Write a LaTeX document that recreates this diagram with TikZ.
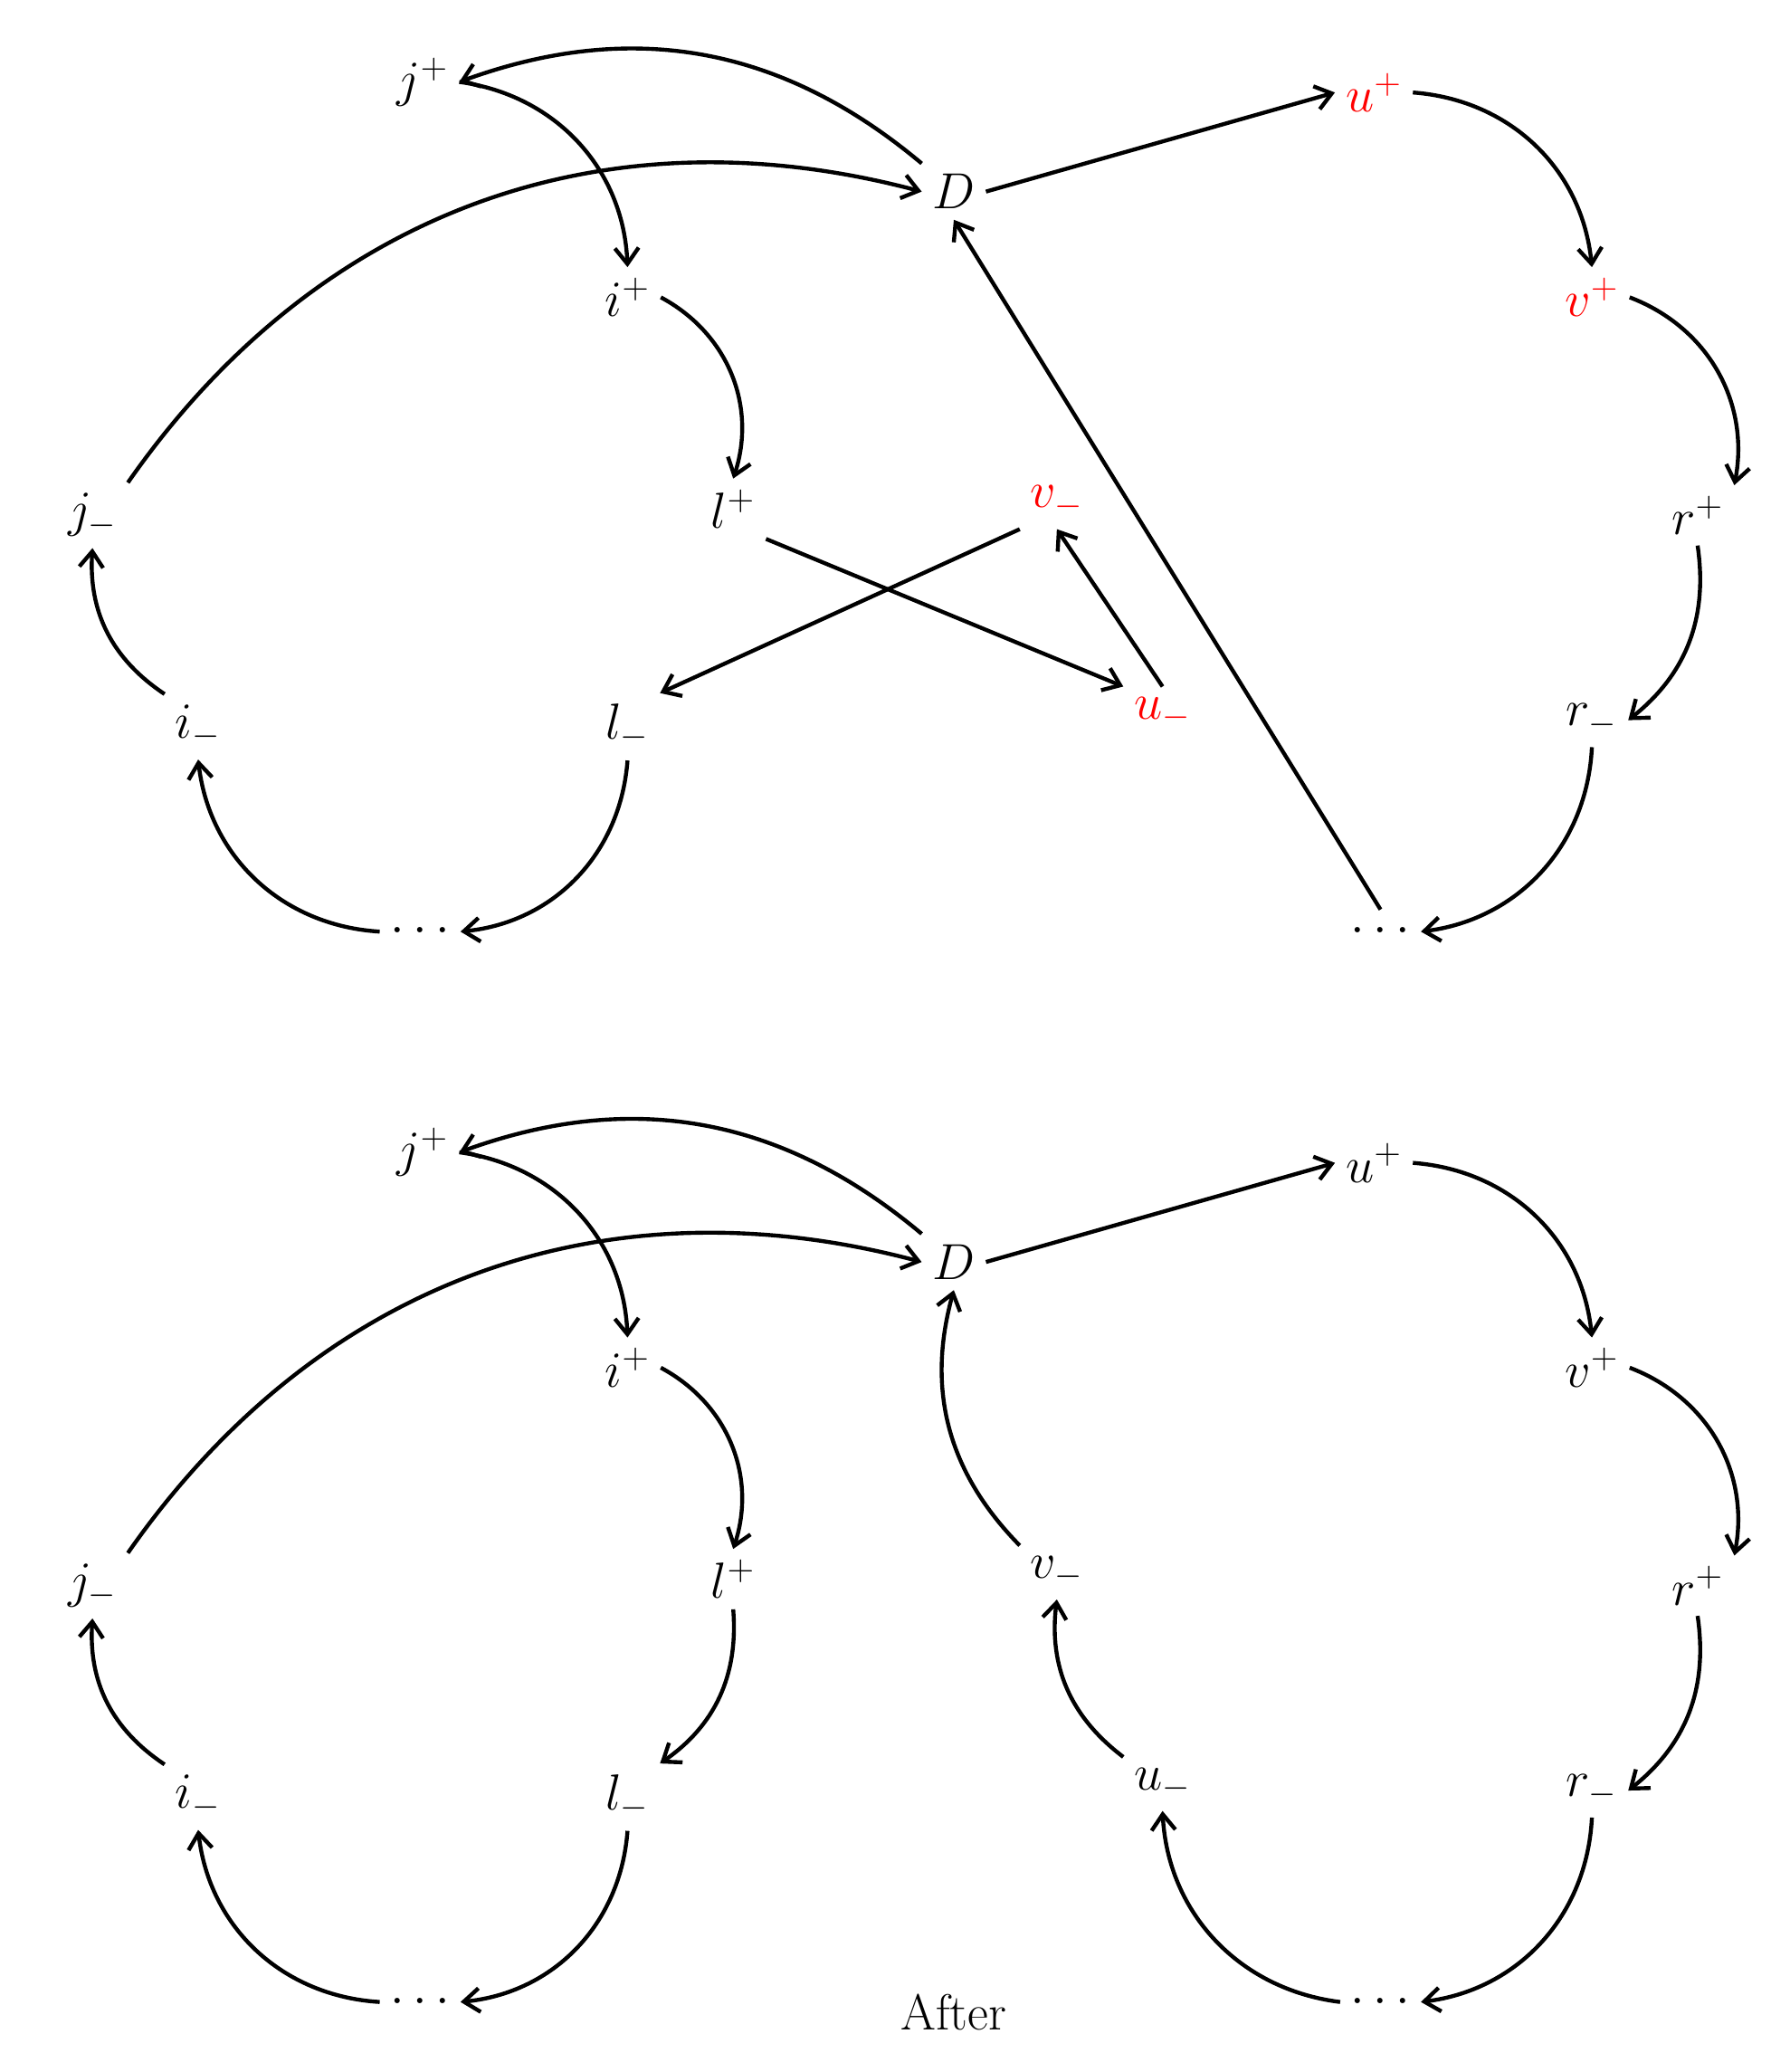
\documentclass[tikz,border=0pt]{standalone}
\usetikzlibrary{arrows.meta}
\newcommand{\Lb}[1]{\scalebox{1.85}{\huge #1}}
\begin{document}
\begin{tikzpicture}[x=1pt,y=-1pt,
  lab/.style={inner sep=8pt},
  red/.style={text=red},
  arr/.style={-{Straight Barb[length=12pt,width=18pt,line width=3pt]},line width=3pt},
  every node/.append style={lab}]
\useasboundingbox (0,0) rectangle (1340,1568);
\foreach \o/\p in {0/t,810/b}{
\begin{scope}[yshift=-\o pt]
\node (jp\p) at (320,62) {\Lb{$j^+$}};
\node (D\p) at (722,145) {\Lb{$D$}};
\node (ip\p) at (475,225) {\Lb{$i^+$}};
\node (jm\p) at (70,390) {\Lb{$j_-$}};
\node (lp\p) at (555,385) {\Lb{$l^+$}};
\node (rp\p) at (1285,390) {\Lb{$r^+$}};
\node (im\p) at (150,550) {\Lb{$i_-$}};
\node (lm\p) at (475,550) {\Lb{$l_-$}};
\node (rm\p) at (1205,545) {\Lb{$r_-$}};
\node (da\p) at (318,705) {\Lb{$\cdots$}};
\node (db\p) at (1045,705) {\Lb{$\cdots$}};
\end{scope}}
\node[red] (upt) at (1040,70) {\Lb{$u^+$}};
\node[red] (vpt) at (1205,225) {\Lb{$v^+$}};
\node[red] (vmt) at (800,380) {\Lb{$v_-$}};
\node[red] (umt) at (880,540) {\Lb{$u_-$}};
\node (upb) at (1040,880) {\Lb{$u^+$}};
\node (vpb) at (1205,1035) {\Lb{$v^+$}};
\node (vmb) at (800,1190) {\Lb{$v_-$}};
\node (umb) at (880,1350) {\Lb{$u_-$}};
\node[inner sep=2pt] (after) at (722,1523) {\Lb{After}};
\foreach \p in {t,b}{
\draw[arr] (D\p.north west) to[bend right=30] (jp\p.east);
\draw[arr] (jp\p.east) to[bend left=40] (ip\p.north);
\draw[arr] (jm\p.north east) to[bend left=35] (D\p.west);
\draw[arr] (D\p.east) -- (up\p.west);
\draw[arr] (up\p.east) to[bend left=40] (vp\p.north);
\draw[arr] (ip\p.east) to[bend left=40] (lp\p.north);
\draw[arr] (vp\p.east) to[bend left=40] (rp\p.north east);
\draw[arr] (rp\p.south) to[bend left=30] (rm\p.east);
\draw[arr] (rm\p.south) to[bend left=40] (db\p.east);
\draw[arr] (lm\p.south) to[bend left=40] (da\p.east);
\draw[arr] (da\p.west) to[bend left=40] (im\p.south);
\draw[arr] (im\p.north west) to[bend left=30] (jm\p.south);
}
\draw[arr] (lpt.south east) -- (umt.north west);
\draw[arr] (vmt.south west) -- (lmt.north east);
\draw[arr] (umt.north) -- (vmt.south);
\draw[arr] (dbt.north) -- (Dt.south);
\draw[arr] (lpb.south) to[bend left=30] (lmb.north east);
\draw[arr] (umb.north west) to[bend left=30] (vmb.south);
\draw[arr] (vmb.north west) to[bend left=30] (Db.south);
\draw[arr] (dbb.west) to[bend left=40] (umb.south);
\end{tikzpicture}
\end{document}
